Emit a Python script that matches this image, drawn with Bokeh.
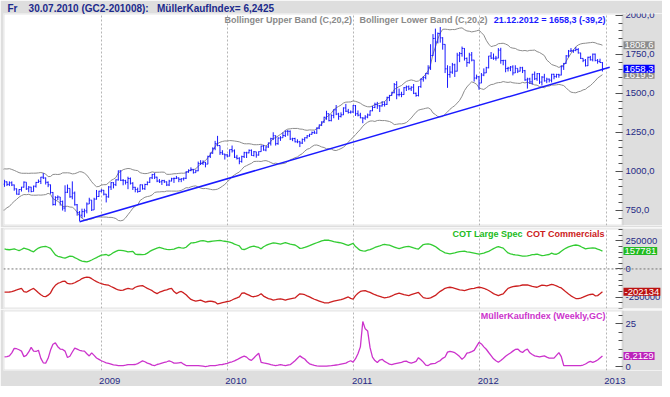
import pandas as pd
from bokeh.plotting import figure
from bokeh.models import Range1d, FixedTicker, Span, Label, ColumnDataSource, BoxAnnotation
from bokeh.layouts import column
from bokeh.embed import file_html
from bokeh.resources import INLINE

# ---------------- data (weekly, Friday closes) ----------------
price_first_week = "2007-11-02"
week_close = [
    806, 833, 787, 822, 783, 798, 796, 812, 842,
    865, 895, 880, 913, 908, 923, 908, 948, 975, 973, 999, 917, 932, 916, 926, 912, 887,
    853, 883, 898, 930, 887, 898, 870, 904, 928, 935, 962, 957, 929, 913, 864, 787, 832, 835,
    806, 764, 865, 890, 836, 860, 785, 735, 718, 741, 746, 790, 815, 752, 821, 838, 872,
    878, 853, 836, 899, 927, 914, 945, 1002, 942, 940, 929, 953, 923, 897, 883, 870, 913,
    888, 915, 929, 958, 979, 962, 937, 932, 940, 932, 912, 937, 952, 954, 957, 948, 952, 955,
    996, 1006, 1012, 991, 1003, 1050, 1051, 1057, 1046, 1095, 1116, 1147, 1177, 1165, 1119, 1110, 1105,
    1097, 1139, 1131, 1090, 1083, 1063, 1094, 1119, 1118, 1134, 1101, 1125, 1104, 1126, 1161, 1136, 1156, 1180,
    1209, 1228, 1177, 1213, 1215, 1229, 1256, 1256, 1207, 1210, 1189, 1189, 1181, 1204, 1215, 1227, 1237,
    1248, 1245, 1276, 1297, 1317, 1346, 1369, 1325, 1358, 1394, 1367, 1352, 1362, 1406, 1385, 1377, 1380, 1421,
    1369, 1360, 1343, 1341, 1348, 1361, 1388, 1409, 1429, 1420, 1419, 1428, 1429, 1474, 1486, 1504, 1556,
    1491, 1493, 1492, 1536, 1542, 1529, 1539, 1500, 1486, 1543, 1591, 1602, 1628, 1663, 1742, 1852, 1829,
    1884, 1856, 1814, 1657, 1620, 1636, 1683, 1642, 1745, 1755, 1788, 1724, 1697, 1746, 1713, 1598, 1606, 1566,
    1617, 1631, 1664, 1739, 1726, 1725, 1726, 1777, 1710, 1711, 1659, 1662, 1669, 1631, 1660, 1642, 1664,
    1645, 1586, 1592, 1573, 1622, 1593, 1626, 1572, 1604, 1580, 1591, 1584, 1622, 1607, 1621, 1617, 1671, 1691,
    1740, 1771, 1773, 1775, 1781, 1759, 1724, 1712, 1677, 1731, 1715, 1751, 1711, 1705, 1697.5, 1658.3,
]
week_high = [
    812, 848, 840, 826, 830, 806, 812, 815, 845,
    870, 900, 915, 925, 935, 925, 935, 955, 980, 992, 1003, 1033, 945, 935, 935, 935, 915,
    890, 885, 900, 935, 930, 905, 900, 908, 932, 947, 964, 988, 960, 935, 915, 867, 840, 845,
    835, 812, 910, 915, 890, 935, 870, 790, 745, 760, 760, 800, 830, 815, 830, 880, 875,
    885, 880, 855, 905, 930, 930, 948, 1005, 1007, 950, 945, 965, 960, 930, 900, 895, 915,
    915, 920, 935, 960, 983, 990, 965, 950, 945, 945, 935, 945, 958, 960, 970, 960, 955, 960,
    1000, 1012, 1025, 1015, 1010, 1062, 1071, 1070, 1060, 1100, 1120, 1153, 1195, 1227, 1165, 1135, 1112,
    1110, 1140, 1165, 1140, 1105, 1090, 1100, 1125, 1125, 1140, 1140, 1130, 1125, 1128, 1165, 1170, 1160, 1185,
    1215, 1250, 1230, 1218, 1225, 1250, 1262, 1265, 1262, 1215, 1215, 1205, 1195, 1210, 1218, 1232, 1240,
    1255, 1260, 1282, 1300, 1320, 1350, 1388, 1370, 1365, 1398, 1425, 1375, 1378, 1410, 1432, 1400, 1390, 1425,
    1425, 1390, 1375, 1345, 1360, 1370, 1390, 1420, 1440, 1445, 1425, 1450, 1448, 1478, 1490, 1510, 1566,
    1578, 1530, 1510, 1540, 1550, 1550, 1545, 1560, 1505, 1545, 1595, 1610, 1630, 1680, 1815, 1880, 1915,
    1890, 1925, 1860, 1815, 1680, 1675, 1695, 1690, 1760, 1765, 1800, 1790, 1730, 1760, 1765, 1715, 1620, 1610,
    1630, 1660, 1670, 1740, 1765, 1755, 1740, 1790, 1792, 1715, 1715, 1670, 1675, 1680, 1680, 1660, 1670,
    1670, 1650, 1600, 1600, 1625, 1640, 1630, 1630, 1610, 1625, 1600, 1595, 1625, 1625, 1625, 1625, 1680, 1695,
    1745, 1778, 1790, 1780, 1798, 1790, 1760, 1725, 1720, 1735, 1740, 1755, 1755, 1720, 1722, 1700,
]
week_low = [
    786, 805, 782, 786, 780, 780, 790, 790, 810,
    838, 858, 870, 865, 900, 885, 905, 905, 945, 960, 967, 910, 900, 905, 905, 905, 875,
    850, 848, 870, 895, 880, 865, 865, 870, 895, 925, 918, 950, 915, 898, 855, 780, 780, 815,
    780, 748, 740, 860, 830, 820, 780, 715, 681, 700, 705, 730, 790, 745, 752, 818, 835,
    865, 845, 800, 830, 880, 890, 905, 940, 937, 910, 915, 885, 915, 880, 865, 862, 868,
    882, 880, 910, 925, 950, 950, 930, 925, 912, 925, 905, 905, 935, 925, 950, 930, 930, 940,
    950, 990, 1000, 985, 990, 1000, 1040, 1040, 1025, 1045, 1085, 1112, 1135, 1160, 1105, 1105, 1075,
    1090, 1095, 1120, 1085, 1075, 1045, 1055, 1085, 1085, 1115, 1100, 1095, 1087, 1100, 1125, 1132, 1128, 1150,
    1165, 1200, 1165, 1170, 1195, 1215, 1220, 1228, 1200, 1193, 1185, 1180, 1155, 1175, 1190, 1210, 1220,
    1235, 1240, 1240, 1270, 1290, 1310, 1330, 1320, 1320, 1340, 1360, 1330, 1345, 1360, 1380, 1370, 1370, 1375,
    1355, 1352, 1340, 1308, 1330, 1340, 1355, 1385, 1405, 1400, 1380, 1415, 1415, 1425, 1450, 1485, 1500,
    1462, 1480, 1475, 1490, 1515, 1520, 1515, 1495, 1478, 1480, 1535, 1575, 1590, 1620, 1650, 1740, 1700,
    1820, 1825, 1780, 1630, 1535, 1600, 1625, 1605, 1640, 1700, 1735, 1710, 1670, 1690, 1705, 1575, 1590, 1523,
    1565, 1610, 1630, 1660, 1720, 1715, 1710, 1725, 1690, 1680, 1635, 1640, 1642, 1615, 1630, 1630, 1640,
    1630, 1580, 1530, 1560, 1555, 1585, 1580, 1560, 1550, 1575, 1565, 1570, 1570, 1590, 1600, 1600, 1615, 1650,
    1690, 1730, 1765, 1760, 1770, 1755, 1720, 1700, 1672, 1675, 1710, 1705, 1705, 1690, 1695, 1640,
]

indicator_first_week = "2008-03-28"
cot_large_spec = [
    178, 172, 170, 174, 178, 170, 163, 172, 184, 178,
    171, 160, 152, 170, 185, 194, 198, 199, 192, 182,
    153, 125, 112, 106, 100, 95, 104, 113, 112, 100,
    90, 78, 70, 66, 62, 70, 79, 90, 100, 112,
    122, 125, 128, 118, 130, 145, 156, 165, 164, 162,
    158, 152, 154, 156, 132, 128, 128, 127, 129, 140,
    155, 166, 176, 184, 190, 184, 178, 174, 171, 173,
    176, 184, 190, 186, 185, 192, 212, 230, 232, 236,
    242, 248, 250, 246, 240, 243, 246, 248,
    250, 252, 248, 245, 242, 238, 230, 220, 212, 204,
    175, 172, 180, 190, 198, 202, 196, 190, 178, 196,
    208, 218, 224, 230, 228, 224, 220, 226, 232, 226,
    220, 216, 212, 198, 182, 184, 190, 198, 206, 216,
    224, 232, 240, 248, 254, 256, 254, 248, 242, 238,
    234, 230, 224, 216, 208, 218, 226, 198, 180, 164,
    160, 158, 166, 172, 180, 190, 198, 204, 212, 218,
    214, 210, 202, 194, 186, 180, 186, 194, 198, 200,
    194, 186, 180, 176, 196, 216, 220, 222, 218, 208,
    198, 182, 166, 154, 142, 138, 134, 138, 142, 148,
    154, 156, 158, 152, 148, 144, 140, 136, 132, 136,
    140, 148, 156, 168, 180, 190, 198, 190, 184, 162,
    142, 134, 128, 124, 122, 118, 114, 114, 116, 120,
    126, 128, 132, 124, 118, 120, 124, 128, 140, 132,
    130, 140, 156, 172, 185, 195, 202, 208, 212, 208,
    199, 188, 178, 182, 185, 186, 185, 176, 168, 157.781,
]
cot_commercials = [
    -205, -205, -204, -200, -193, -186, -178, -171, -200, -206,
    -194, -182, -172, -190, -210, -228, -242, -245, -232, -212,
    -172, -145, -128, -120, -110, -108, -128, -133, -130, -122,
    -110, -100, -85, -76, -72, -74, -86, -100, -112, -122,
    -130, -136, -140, -144, -155, -165, -176, -186, -190, -188,
    -178, -172, -176, -178, -162, -155, -150, -148, -160, -172,
    -182, -192, -208, -218, -206, -198, -190, -185, -176, -171,
    -200, -218, -206, -199, -212, -228, -250, -270, -278, -284,
    -280, -276, -285, -293, -288, -284, -288, -293,
    -310, -304, -298, -293, -288, -284, -275, -264, -256, -247,
    -215, -212, -222, -232, -242, -246, -240, -233, -219, -240,
    -252, -262, -268, -275, -272, -268, -264, -270, -276, -270,
    -264, -260, -256, -238, -220, -222, -228, -238, -247, -258,
    -268, -276, -284, -292, -299, -300, -299, -292, -285, -280,
    -276, -272, -265, -256, -248, -260, -268, -236, -215, -199,
    -194, -191, -200, -208, -218, -228, -236, -242, -250, -256,
    -252, -247, -238, -228, -220, -213, -220, -228, -232, -236,
    -228, -220, -214, -208, -232, -254, -258, -261, -256, -245,
    -234, -215, -198, -185, -171, -166, -162, -166, -171, -178,
    -185, -188, -191, -185, -179, -175, -171, -166, -162, -166,
    -171, -180, -191, -204, -218, -228, -236, -228, -220, -195,
    -172, -164, -156, -153, -151, -147, -142, -141, -142, -148,
    -155, -158, -162, -152, -143, -146, -150, -144, -136, -142,
    -150, -160, -168, -186, -205, -222, -238, -250, -262, -263,
    -258, -250, -240, -232, -226, -222, -238, -236, -220, -202.134,
]
mueller_kauf_index = [
    5.6, 5.8, 6.2, 8.0, 10.6, 10.4, 9.8, 9.0, 5.8, 6.5,
    8.5, 11.2, 9.0, 8.8, 9.5, 4.8, 2.2, 2.0, 4.8, 9.6,
    13.0, 13.8, 11.6, 10.2, 10.0, 9.0, 5.3, 6.0, 8.5, 10.8,
    10.2, 9.5, 9.2, 9.0, 7.5, 6.2, 8.0, 6.5, 5.0, 4.2,
    3.4, 2.8, 2.2, 1.8, 1.4, 1.0, 0.8, 0.6, 0.6, 0.6,
    0.8, 1.1, 1.1, 1.1, 1.2, 1.7, 2.5, 3.3, 2.8, 2.0,
    1.6, 0.8, 0.6, 1.2, 1.5, 2.0, 2.4, 2.8, 3.3, 2.8,
    2.0, 2.0, 2.2, 2.4, 1.4, 0.6, 0.6, 0.6, 0.6, 0.6,
    0.6, 0.4, 0.2, 0.0, 0.2, 0.5, 0.6, 0.6,
    0.8, 1.1, 1.2, 1.5, 1.9, 2.4, 2.8, 3.3, 4.0, 4.8,
    5.5, 6.1, 5.5, 4.2, 3.6, 5.0, 6.5, 7.8, 2.5, 2.1,
    1.9, 1.5, 1.1, 0.8, 0.6, 0.8, 1.1, 0.8, 0.6, 0.9,
    1.1, 2.2, 3.4, 4.8, 6.2425, 5.2, 4.4, 2.8, 1.6, 1.1,
    0.7, 0.4, 0.2, 0.2, 0.2, 0.2, 0.4, 0.5, 0.7, 0.9,
    1.1, 1.4, 1.7, 2.0, 2.8, 3.4, 2.6, 4.6, 7.5, 11.5,
    26.3, 22.0, 20.8, 11.0, 5.5, 3.5, 2.4, 3.8, 4.2, 3.0,
    2.2, 1.4, 1.1, 1.5, 1.9, 2.2, 2.5, 3.0, 3.2, 2.4,
    2.0, 2.4, 3.0, 5.2, 4.0, 2.6, 0.8, 0.6, 1.5, 1.7,
    1.9, 2.8, 3.5, 4.8, 5.6, 8.4, 8.9, 8.5, 8.1, 7.0,
    5.8, 4.3, 5.5, 7.8, 8.1, 8.7, 9.4, 11.8, 14.1, 13.2,
    11.5, 10.1, 8.2, 6.4, 4.5, 3.4, 2.5, 3.5, 4.7, 6.0,
    7.0, 7.9, 9.0, 10.0, 10.2, 8.9, 8.2, 9.5, 10.2, 8.0,
    7.0, 6.2, 5.9, 5.6, 5.9, 6.2, 5.5, 4.9, 4.9, 4.9,
    6.5, 8.1, 5.8, 0.6, 0.6, 0.6, 0.6, 0.6, 0.6, 0.6,
    0.6, 0.9, 1.5, 2.4, 3.0, 2.5, 3.0, 3.8, 5.0, 6.2129,
]

trend_dates = ["2008-10-31", "2013-01-11"]
trend_values = [676, 1667]

price_ticks = [750, 1000, 1250, 1500, 1750, 2000]
price_tick_labels = ["750,0", "1000,0", "1250,0", "1500,0", "1750,0", "2000,0"]
cot_ticks = [-250000, 0, 250000]
cot_tick_labels = ["-250000", "0", "250000"]
mki_ticks = [0, 25]
mki_tick_labels = ["0", "25"]
year_labels = ["2009", "2010", "2011", "2012", "2013"]

title_text = "Fr\u00a0\u00a0\u00a0 30.07.2010 (GC2-201008):\u00a0\u00a0 MüllerKaufIndex= 6,2425"
last_quote = "21.12.2012 = 1658,3 (-39,2)"

view_start = "2008-03-25"
view_end = "2013-02-17"

# ---------------- derived series ----------------
weeks = pd.date_range(price_first_week, periods=len(week_close), freq="7D")
ind_weeks = pd.date_range(indicator_first_week, periods=len(cot_large_spec), freq="7D")
closes = pd.Series(week_close, dtype=float)
week_open = closes.shift(1).fillna(closes.iloc[0])
bb_mid = closes.rolling(20).mean()
bb_sd = closes.rolling(20).std(ddof=0)
bb_upper = bb_mid + 2 * bb_sd
bb_lower = bb_mid - 2 * bb_sd
tick_half = pd.Timedelta(days=3)

bars = ColumnDataSource(dict(
    x=weeks, xl=weeks - tick_half, xr=weeks + tick_half,
    hi=week_high, lo=week_low, op=week_open.tolist(), cl=week_close,
))

# ---------------- style / geometry ----------------
BG = "#dedede"
NAVY = "#262a85"
FONT = "Liberation Sans"
GRID = "#b5b5b5"
BLUE = "#1a1aff"
GREEN = "#33cc33"
RED = "#cc2020"
MAG = "#cc33cc"
WHITE_W = 619      # plotting (white) area width
AXIS_W = 40        # grey price-scale column, drawn inside the frame
FW = WHITE_W + AXIS_W


def ms(ts):
    return pd.Timestamp(ts).value / 10**6


t0, t1 = pd.Timestamp(view_start), pd.Timestamp(view_end)
t_full = t1 + (t1 - t0) * (AXIS_W / WHITE_W)
scale_loc = ms(t1)
year_grid = [ms(f"{y}-01-01") for y in year_labels]
year_label_pos = [ms(pd.Timestamp(f"{y}-01-01") + pd.Timedelta(days=25)) for y in year_labels]

x_rng = Range1d(ms(t0), ms(t_full))


def panel(fh, y_rng, top, bottom, ticks, labels, minor, show_x=False):
    p = figure(frame_width=FW, frame_height=fh, x_range=x_rng, y_range=y_rng,
               x_axis_type="datetime", x_axis_location="below" if show_x else None,
               y_axis_location="right", toolbar_location=None, tools="",
               output_backend="svg", min_border_left=3, min_border_right=0,
               min_border_top=top, min_border_bottom=bottom,
               background_fill_color="white", border_fill_color=BG,
               outline_line_color=None)
    # grey scale column and frame line of the white area
    p.add_layout(BoxAnnotation(left=scale_loc, fill_color=BG, fill_alpha=1,
                               line_color=None, level="underlay"))
    p.add_layout(BoxAnnotation(right=scale_loc, fill_alpha=0, line_color="#a6a6a6",
                               line_width=2, level="underlay"))
    p.xgrid.ticker = FixedTicker(ticks=year_grid)
    p.xgrid.grid_line_color = GRID
    p.xgrid.grid_line_dash = "2 2"
    p.ygrid.visible = False
    ax = p.yaxis[0]
    ax.fixed_location = scale_loc
    ax.ticker = FixedTicker(ticks=ticks, minor_ticks=minor)
    ax.major_label_overrides = dict(zip(ticks, labels))
    ax.axis_line_color = None
    ax.major_tick_in = 7
    ax.major_tick_out = 0
    ax.minor_tick_in = 4
    ax.minor_tick_out = 0
    ax.major_tick_line_color = "#505050"
    ax.minor_tick_line_color = "#505050"
    ax.major_label_text_color = NAVY
    ax.major_label_text_font = FONT
    ax.major_label_text_font_size = "9.5px"
    ax.major_label_standoff = 3
    if show_x:
        xa = p.xaxis[0]
        xa.ticker = FixedTicker(ticks=year_label_pos)
        xa.major_label_overrides = dict(zip(year_label_pos, year_labels))
        xa.axis_line_color = None
        xa.major_tick_line_color = None
        xa.minor_tick_line_color = None
        xa.major_label_text_color = NAVY
        xa.major_label_text_font = FONT
        xa.major_label_text_font_size = "9.5px"
        xa.major_label_standoff = 1
    return p


def txt(p, x, y, text, color, size="9px", align="left"):
    p.add_layout(Label(x=x, y=y, x_units="screen", y_units="screen", text=text,
                       text_color=color, text_font=FONT, text_font_size=size,
                       text_font_style="bold", text_align=align, text_baseline="middle"))


def value_box(p, yv, text, fill):
    p.add_layout(Label(x=scale_loc, y=yv, x_units="data", y_units="data", text=text,
                       x_offset=1, text_color="white", text_font=FONT, text_font_size="9.5px",
                       text_baseline="middle", background_fill_color=fill, padding=1))


# ---------------- top: price ----------------
TH = 212
p1 = panel(TH, Range1d(652, 2012), 13, 2, price_ticks, price_tick_labels,
           list(range(650, 2051, 50)))
p1.title.text = title_text
p1.title.text_color = "#1c2a8c"
p1.title.text_font = FONT
p1.title.text_font_size = "10px"
p1.title.text_font_style = "bold"
p1.title.offset = 4
p1.title.standoff = 0
p1.line(weeks, bb_upper, line_color="#8c8c8c", line_width=1)
p1.line(weeks, bb_lower, line_color="#8c8c8c", line_width=1)
p1.segment(x0="x", y0="lo", x1="x", y1="hi", source=bars, line_color=BLUE, line_width=1)
p1.segment(x0="xl", y0="op", x1="x", y1="op", source=bars, line_color=BLUE, line_width=1)
p1.segment(x0="x", y0="cl", x1="xr", y1="cl", source=bars, line_color=BLUE, line_width=1)
p1.line(pd.to_datetime(trend_dates), trend_values, line_color=BLUE, line_width=1.5)

txt(p1, 221, TH - 6, "Bollinger Upper Band (C,20,2)", "#8a8a8a")
txt(p1, 356, TH - 6, "Bollinger Lower Band (C,20,2)", "#8a8a8a")
txt(p1, 602, TH - 6, last_quote, BLUE, align="right")
value_box(p1, float(bb_upper.iloc[-1]), f"{bb_upper.iloc[-1]:.1f}".replace(".", ","), "#8c8c8c")
value_box(p1, float(bb_lower.iloc[-1]), f"{bb_lower.iloc[-1]:.1f}".replace(".", ","), "#8c8c8c")
value_box(p1, week_close[-1], f"{week_close[-1]:.1f}".replace(".", ","), "#0000ff")

# ---------------- middle: COT ----------------
MH = 80
p2 = panel(MH, Range1d(-350000, 358000), 1, 1, cot_ticks, cot_tick_labels,
           list(range(-350000, 350001, 50000)))
p2.add_layout(Span(location=0, dimension="width", line_color="#777777",
                   line_dash="2 2", line_width=1))
p2.line(ind_weeks, [v * 1000 for v in cot_large_spec], line_color=GREEN, line_width=1.3)
p2.line(ind_weeks, [v * 1000 for v in cot_commercials], line_color=RED, line_width=1.3)
txt(p2, 523, MH - 5, "COT Commercials", RED)
txt(p2, 519, MH - 5, "COT Large Spec", "#22bb22", align="right")
value_box(p2, cot_large_spec[-1] * 1000, f"{cot_large_spec[-1] * 1000:.0f}", "#22bb22")
value_box(p2, cot_commercials[-1] * 1000, f"{cot_commercials[-1] * 1000:.0f}", "#bb1111")

# ---------------- bottom: MuellerKaufIndex ----------------
BH = 60
p3 = panel(BH, Range1d(-2.3, 32.7), 1, 12, mki_ticks, mki_tick_labels,
           list(range(0, 31, 5)), show_x=True)
p3.line(ind_weeks, mueller_kauf_index, line_color=MAG, line_width=1.3)
txt(p3, 602, BH - 5, "MüllerKaufIndex (Weekly,GC)", MAG, align="right")
value_box(p3, mueller_kauf_index[-1], f"{mueller_kauf_index[-1]:.4f}".replace(".", ","), "#bb22bb")

layout = column(p1, p2, p3, spacing=0)
open("out.html", "w").write(file_html(layout, INLINE))
